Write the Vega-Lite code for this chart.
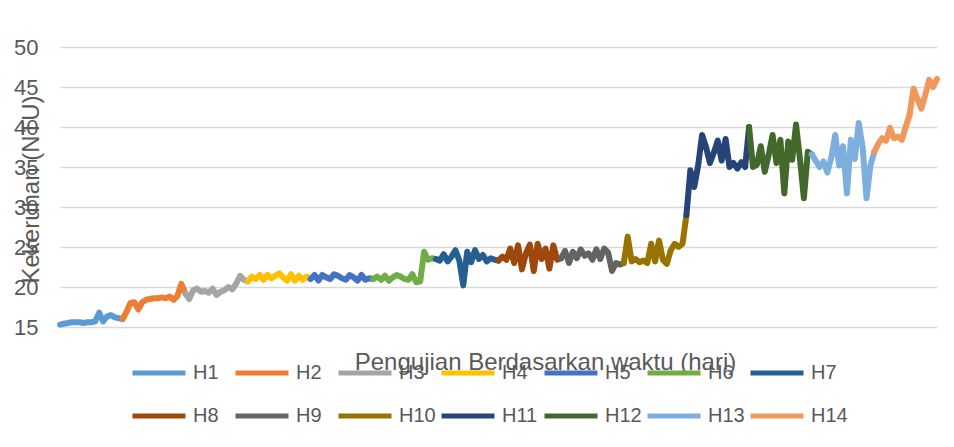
{
  "$schema": "https://vega.github.io/schema/vega-lite/v6.json",
  "width": 877,
  "height": 280,
  "autosize": {"type": "none"},
  "padding": {"left": 60, "top": 47, "right": 17, "bottom": 120},
  "background": "white",
  "config": {
    "view": {"stroke": null},
    "font": "Liberation Sans"
  },
  "datasets": {
    "series": [
      {"s":"H1","t":0,"v":15.3},{"s":"H1","t":1,"v":15.4},{"s":"H1","t":2,"v":15.5},{"s":"H1","t":3,"v":15.6},{"s":"H1","t":4,"v":15.6},{"s":"H1","t":5,"v":15.6},{"s":"H1","t":6,"v":15.5},{"s":"H1","t":7,"v":15.6},{"s":"H1","t":8,"v":15.6},{"s":"H1","t":9,"v":15.7},{"s":"H1","t":10,"v":16.8},{"s":"H1","t":11,"v":15.7},{"s":"H1","t":12,"v":16.3},{"s":"H1","t":13,"v":16.5},{"s":"H1","t":14,"v":16.2},{"s":"H1","t":15,"v":16.1},{"s":"H1","t":16,"v":16.0},
      {"s":"H2","t":16,"v":16.0},{"s":"H2","t":17,"v":16.9},{"s":"H2","t":18,"v":18.0},{"s":"H2","t":19,"v":18.1},{"s":"H2","t":20,"v":17.2},{"s":"H2","t":21,"v":18.1},{"s":"H2","t":22,"v":18.4},{"s":"H2","t":23,"v":18.5},{"s":"H2","t":24,"v":18.6},{"s":"H2","t":25,"v":18.6},{"s":"H2","t":26,"v":18.7},{"s":"H2","t":27,"v":18.6},{"s":"H2","t":28,"v":18.8},{"s":"H2","t":29,"v":18.4},{"s":"H2","t":30,"v":18.9},{"s":"H2","t":31,"v":20.4},{"s":"H2","t":32,"v":19.2},
      {"s":"H3","t":32,"v":19.2},{"s":"H3","t":33,"v":18.5},{"s":"H3","t":34,"v":19.6},{"s":"H3","t":35,"v":19.8},{"s":"H3","t":36,"v":19.4},{"s":"H3","t":37,"v":19.5},{"s":"H3","t":38,"v":19.3},{"s":"H3","t":39,"v":19.8},{"s":"H3","t":40,"v":19.0},{"s":"H3","t":41,"v":19.4},{"s":"H3","t":42,"v":19.6},{"s":"H3","t":43,"v":20.0},{"s":"H3","t":44,"v":19.7},{"s":"H3","t":45,"v":20.4},{"s":"H3","t":46,"v":21.4},{"s":"H3","t":47,"v":20.9},{"s":"H3","t":48,"v":20.7},
      {"s":"H4","t":48,"v":20.7},{"s":"H4","t":49,"v":21.3},{"s":"H4","t":50,"v":21.0},{"s":"H4","t":51,"v":21.5},{"s":"H4","t":52,"v":20.9},{"s":"H4","t":53,"v":21.5},{"s":"H4","t":54,"v":21.1},{"s":"H4","t":55,"v":21.4},{"s":"H4","t":56,"v":21.7},{"s":"H4","t":57,"v":21.2},{"s":"H4","t":58,"v":20.8},{"s":"H4","t":59,"v":21.6},{"s":"H4","t":60,"v":20.8},{"s":"H4","t":61,"v":21.4},{"s":"H4","t":62,"v":20.9},{"s":"H4","t":63,"v":21.3},{"s":"H4","t":64,"v":21.0},
      {"s":"H5","t":64,"v":21.0},{"s":"H5","t":65,"v":21.5},{"s":"H5","t":66,"v":20.8},{"s":"H5","t":67,"v":21.5},{"s":"H5","t":68,"v":21.2},{"s":"H5","t":69,"v":21.0},{"s":"H5","t":70,"v":21.6},{"s":"H5","t":71,"v":21.4},{"s":"H5","t":72,"v":21.1},{"s":"H5","t":73,"v":20.9},{"s":"H5","t":74,"v":21.5},{"s":"H5","t":75,"v":21.2},{"s":"H5","t":76,"v":20.8},{"s":"H5","t":77,"v":21.5},{"s":"H5","t":78,"v":20.9},{"s":"H5","t":79,"v":21.1},{"s":"H5","t":80,"v":21.0},
      {"s":"H6","t":80,"v":21.0},{"s":"H6","t":81,"v":21.3},{"s":"H6","t":82,"v":20.9},{"s":"H6","t":83,"v":21.4},{"s":"H6","t":84,"v":20.8},{"s":"H6","t":85,"v":21.2},{"s":"H6","t":86,"v":21.5},{"s":"H6","t":87,"v":21.3},{"s":"H6","t":88,"v":21.0},{"s":"H6","t":89,"v":20.9},{"s":"H6","t":90,"v":21.6},{"s":"H6","t":91,"v":20.6},{"s":"H6","t":92,"v":20.7},{"s":"H6","t":93,"v":24.4},{"s":"H6","t":94,"v":23.4},{"s":"H6","t":95,"v":23.6},{"s":"H6","t":96,"v":23.5},
      {"s":"H7","t":96,"v":23.5},{"s":"H7","t":97,"v":23.3},{"s":"H7","t":98,"v":24.1},{"s":"H7","t":99,"v":23.2},{"s":"H7","t":100,"v":23.8},{"s":"H7","t":101,"v":24.6},{"s":"H7","t":102,"v":23.3},{"s":"H7","t":103,"v":20.2},{"s":"H7","t":104,"v":24.4},{"s":"H7","t":105,"v":23.1},{"s":"H7","t":106,"v":24.6},{"s":"H7","t":107,"v":23.5},{"s":"H7","t":108,"v":24.0},{"s":"H7","t":109,"v":23.2},{"s":"H7","t":110,"v":23.6},{"s":"H7","t":111,"v":23.4},{"s":"H7","t":112,"v":23.3},
      {"s":"H8","t":112,"v":23.3},{"s":"H8","t":113,"v":23.8},{"s":"H8","t":114,"v":23.4},{"s":"H8","t":115,"v":24.8},{"s":"H8","t":116,"v":23.0},{"s":"H8","t":117,"v":25.2},{"s":"H8","t":118,"v":22.2},{"s":"H8","t":119,"v":24.2},{"s":"H8","t":120,"v":25.3},{"s":"H8","t":121,"v":22.0},{"s":"H8","t":122,"v":25.4},{"s":"H8","t":123,"v":23.5},{"s":"H8","t":124,"v":24.8},{"s":"H8","t":125,"v":22.3},{"s":"H8","t":126,"v":25.2},{"s":"H8","t":127,"v":23.4},{"s":"H8","t":128,"v":23.6},
      {"s":"H9","t":128,"v":23.6},{"s":"H9","t":129,"v":24.5},{"s":"H9","t":130,"v":23.0},{"s":"H9","t":131,"v":24.4},{"s":"H9","t":132,"v":23.6},{"s":"H9","t":133,"v":24.7},{"s":"H9","t":134,"v":23.9},{"s":"H9","t":135,"v":24.2},{"s":"H9","t":136,"v":23.4},{"s":"H9","t":137,"v":24.7},{"s":"H9","t":138,"v":23.5},{"s":"H9","t":139,"v":24.8},{"s":"H9","t":140,"v":24.3},{"s":"H9","t":141,"v":22.0},{"s":"H9","t":142,"v":23.0},{"s":"H9","t":143,"v":22.8},{"s":"H9","t":144,"v":23.0},
      {"s":"H10","t":144,"v":23.0},{"s":"H10","t":145,"v":26.3},{"s":"H10","t":146,"v":23.2},{"s":"H10","t":147,"v":23.5},{"s":"H10","t":148,"v":23.1},{"s":"H10","t":149,"v":23.3},{"s":"H10","t":150,"v":23.0},{"s":"H10","t":151,"v":25.4},{"s":"H10","t":152,"v":23.2},{"s":"H10","t":153,"v":25.8},{"s":"H10","t":154,"v":23.4},{"s":"H10","t":155,"v":22.9},{"s":"H10","t":156,"v":24.6},{"s":"H10","t":157,"v":25.4},{"s":"H10","t":158,"v":25.0},{"s":"H10","t":159,"v":25.4},{"s":"H10","t":160,"v":29.0},
      {"s":"H11","t":160,"v":29.0},{"s":"H11","t":161,"v":34.6},{"s":"H11","t":162,"v":32.5},{"s":"H11","t":163,"v":35.2},{"s":"H11","t":164,"v":39.0},{"s":"H11","t":165,"v":37.5},{"s":"H11","t":166,"v":35.5},{"s":"H11","t":167,"v":36.8},{"s":"H11","t":168,"v":38.3},{"s":"H11","t":169,"v":35.8},{"s":"H11","t":170,"v":38.5},{"s":"H11","t":171,"v":35.0},{"s":"H11","t":172,"v":35.5},{"s":"H11","t":173,"v":34.8},{"s":"H11","t":174,"v":35.6},{"s":"H11","t":175,"v":35.0},{"s":"H11","t":176,"v":40.0},
      {"s":"H12","t":176,"v":40.0},{"s":"H12","t":177,"v":35.0},{"s":"H12","t":178,"v":35.3},{"s":"H12","t":179,"v":37.6},{"s":"H12","t":180,"v":34.4},{"s":"H12","t":181,"v":36.5},{"s":"H12","t":182,"v":39.0},{"s":"H12","t":183,"v":35.5},{"s":"H12","t":184,"v":38.4},{"s":"H12","t":185,"v":31.7},{"s":"H12","t":186,"v":38.2},{"s":"H12","t":187,"v":35.9},{"s":"H12","t":188,"v":40.3},{"s":"H12","t":189,"v":36.0},{"s":"H12","t":190,"v":31.1},{"s":"H12","t":191,"v":36.9},{"s":"H12","t":192,"v":36.6},
      {"s":"H13","t":192,"v":36.6},{"s":"H13","t":193,"v":35.8},{"s":"H13","t":194,"v":35.0},{"s":"H13","t":195,"v":35.7},{"s":"H13","t":196,"v":34.3},{"s":"H13","t":197,"v":36.2},{"s":"H13","t":198,"v":39.0},{"s":"H13","t":199,"v":35.2},{"s":"H13","t":200,"v":37.6},{"s":"H13","t":201,"v":31.7},{"s":"H13","t":202,"v":38.4},{"s":"H13","t":203,"v":36.0},{"s":"H13","t":204,"v":40.5},{"s":"H13","t":205,"v":37.5},{"s":"H13","t":206,"v":31.1},{"s":"H13","t":207,"v":35.2},{"s":"H13","t":208,"v":36.9},
      {"s":"H14","t":208,"v":36.9},{"s":"H14","t":209,"v":37.9},{"s":"H14","t":210,"v":38.6},{"s":"H14","t":211,"v":38.3},{"s":"H14","t":212,"v":39.9},{"s":"H14","t":213,"v":38.6},{"s":"H14","t":214,"v":38.8},{"s":"H14","t":215,"v":38.4},{"s":"H14","t":216,"v":40.0},{"s":"H14","t":217,"v":41.5},{"s":"H14","t":218,"v":44.8},{"s":"H14","t":219,"v":43.5},{"s":"H14","t":220,"v":42.3},{"s":"H14","t":221,"v":44.0},{"s":"H14","t":222,"v":45.9},{"s":"H14","t":223,"v":45.0},{"s":"H14","t":224,"v":46.0}
    ]
  },
  "data": {"name": "series"},
  "mark": {"type": "line", "strokeWidth": 6, "strokeCap": "round", "strokeJoin": "round"},
  "encoding": {
    "x": {
      "field": "t", "type": "quantitative",
      "scale": {"domain": [0, 224], "nice": false, "zero": false},
      "axis": {
        "title": "Pengujian Berdasarkan waktu (hari)",
        "labels": false, "ticks": false, "domain": false, "grid": false,
        "titleFontSize": 24, "titleFontWeight": "normal", "titleColor": "#595959",
        "titleX": 485, "titleY": 35, "titleBaseline": "middle", "titleAlign": "center"
      }
    },
    "y": {
      "field": "v", "type": "quantitative",
      "scale": {"domain": [15, 50], "nice": false, "zero": false},
      "axis": {
        "title": "Kekeruhan (NTU)",
        "values": [15, 20, 25, 30, 35, 40, 45, 50],
        "ticks": false, "domain": false,
        "grid": true, "gridColor": "#d9d9d9", "gridWidth": 1.5,
        "labelFontSize": 22, "labelColor": "#595959", "labelPadding": 22,
        "titleFontSize": 24, "titleFontWeight": "normal", "titleColor": "#595959",
        "titleX": -29, "titleY": 142, "titleAngle": -90, "titleBaseline": "middle", "titleAlign": "center"
      }
    },
    "color": {
      "field": "s", "type": "nominal",
      "scale": {
        "domain": ["H1","H2","H3","H4","H5","H6","H7","H8","H9","H10","H11","H12","H13","H14"],
        "range": ["#5B9BD5","#ED7D31","#A5A5A5","#FFC000","#4472C4","#70AD47","#255E91","#9E480E","#636363","#997300","#264478","#43682B","#7CAFDD","#F1975A"]
      },
      "legend": {
        "title": null,
        "orient": "none", "legendX": 70, "legendY": 297,
        "direction": "horizontal", "columns": 7, "gridAlign": "all",
        "padding": 0, "columnPadding": -5, "rowPadding": 4,
        "symbolType": "stroke", "symbolSize": 2809, "symbolStrokeWidth": 5,
        "labelFontSize": 20, "labelColor": "#595959", "labelOffset": 5, "labelLimit": 0
      }
    }
  }
}
